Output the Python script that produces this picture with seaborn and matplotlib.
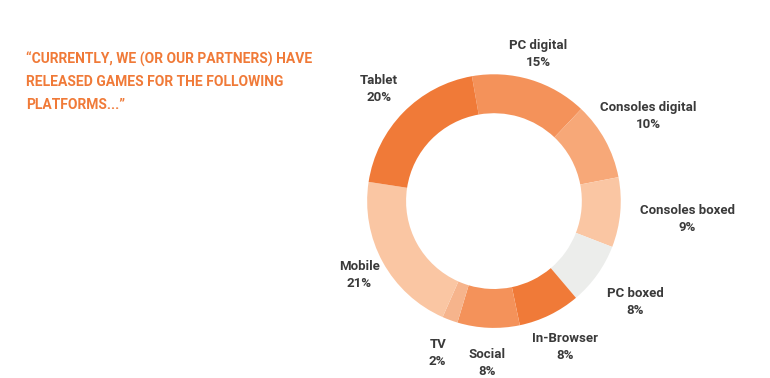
import numpy as np
import seaborn as sns
import matplotlib.pyplot as plt

# data
platforms = ["PC digital", "Consoles digital", "Consoles boxed", "PC boxed",
             "In-Browser", "Social", "TV", "Mobile", "Tablet"]
shares = [15, 10, 9, 8, 8, 8, 2, 21, 20]
colors = ["#F4925A", "#F7A878", "#FAC6A3", "#ECEDEB",
          "#F07A38", "#F4925A", "#F6B48C", "#FAC6A3", "#F07A38"]
title = "\u201cCURRENTLY, WE (OR OUR PARTNERS) HAVE\nRELEASED GAMES FOR THE FOLLOWING\nPLATFORMS...\u201d"

sns.set_theme(style="white")
plt.rcParams['font.family'] = ['Roboto', 'DejaVu Sans']

fig = plt.figure(figsize=(7.7, 3.78), dpi=100)
fig.patch.set_facecolor("white")

#pie axes: 1 data unit ~ 127 px
ax = fig.add_axes([0.378, -0.069, 0.527, 1.074])

wedges, _ = ax.pie(shares, colors=colors, startangle=100, counterclock=False,
                   radius=1.0, wedgeprops=dict(width=0.307, linewidth=0))
#pie resets the limits, so set them afterwards
ax.set_xlim(-1.6, 1.6)
ax.set_ylim(-1.6, 1.6)
ax.set_aspect("equal")
ax.axis("off")

#label distance per wedge (irregular in the original)
label_dist = [1.21, 1.39, 1.53, 1.37, 1.28, 1.28, 1.28, 1.21, 1.27]
for w, name, val, d in zip(wedges, platforms, shares, label_dist):
    theta = np.deg2rad((w.theta1 + w.theta2) / 2)
    ax.text(d * np.cos(theta), d * np.sin(theta), f"{name}\n{val}%",
            ha="center", va="center", fontsize=9.5, fontweight="bold",
            color="#3a3a3a", linespacing=1.4)

fig.text(0.034, 1 - 52 / 378, title, ha="left", va="top", fontsize=10,
         fontweight="bold", color="#F07A38", linespacing=1.75)

plt.savefig("out.png", dpi=100, facecolor="white")
